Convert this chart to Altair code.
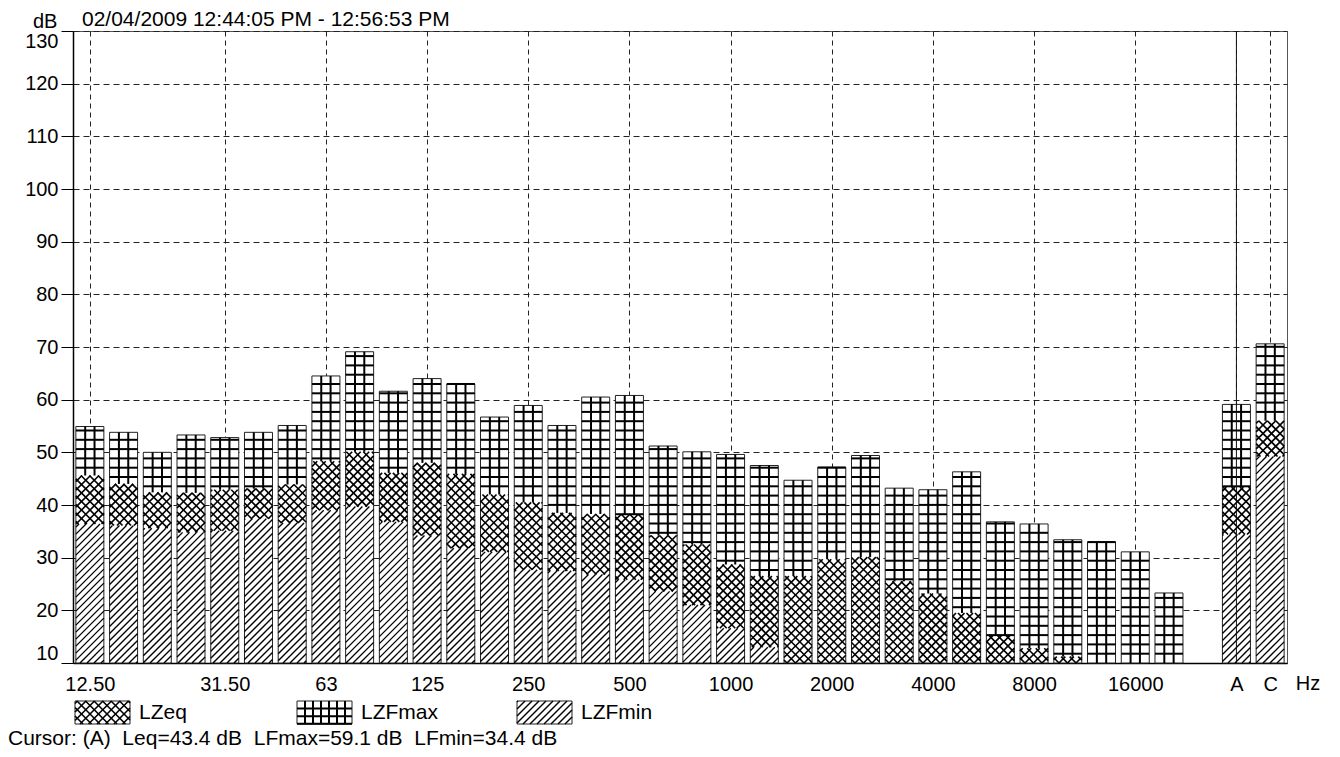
import json
import numpy as np
import pandas as pd
import altair as alt

# ---------------- data ----------------
bands = ["12.50", "16", "20", "25", "31.50", "40", "50", "63", "80", "100", "125", "160",
         "200", "250", "315", "400", "500", "630", "800", "1000", "1250", "1600", "2000",
         "2500", "3150", "4000", "5000", "6300", "8000", "10000", "12500", "16000", "20000",
         "A", "C"]
slots = list(range(33)) + [34, 35]
lzfmax = [54.9, 53.8, 50.0, 53.3, 52.8, 53.8, 55.1, 64.5, 69.1, 61.6, 64.0, 63.0, 56.7,
          58.9, 55.1, 60.5, 60.8, 51.2, 50.1, 49.6, 47.5, 44.7, 47.2, 49.4, 43.2, 42.9,
          46.3, 36.8, 36.4, 33.4, 33.0, 31.1, 23.3, 59.1, 70.6]
lzeq = [45.6, 44.0, 42.4, 42.3, 42.9, 43.1, 43.9, 48.3, 50.1, 46.1, 48.0, 45.9, 42.0,
        40.5, 38.5, 38.3, 38.2, 34.2, 32.5, 28.7, 26.5, 26.5, 29.7, 30.1, 25.5, 23.2,
        19.5, 15.2, 12.8, 11.2, 10.0, 10.0, 10.0, 43.4, 56.0]
lzfmin = [36.4, 36.1, 35.6, 34.8, 35.1, 37.4, 36.6, 39.0, 39.7, 36.8, 34.2, 31.8, 31.1,
          27.7, 27.5, 26.8, 25.8, 23.6, 21.0, 16.6, 13.0, 10.0, 10.0, 10.0, 10.0, 10.0,
          10.0, 10.0, 10.0, 10.0, 10.0, 10.0, 10.0, 34.4, 49.2]
tick_slots = [0, 4, 7, 10, 13, 16, 19, 22, 25, 28, 31, 34, 35]
tick_labels = ["12.50", "31.50", "63", "125", "250", "500", "1000", "2000", "4000",
               "8000", "16000", "A", "C"]
y_ticks = list(range(10, 131, 10))
series = ["LZeq", "LZFmax", "LZFmin"]
header_text = "02/04/2009 12:44:05 PM - 12:56:53 PM"
cursor_text = "Cursor: (A)\u00a0 Leq=43.4 dB\u00a0 LFmax=59.1 dB\u00a0 LFmin=34.4 dB"
cursor_band = "A"

# ---------------- layout ----------------
W, H = 1214, 632
X_DOM = [-0.5, 35.5]
Y_DOM = [10, 130]
SX = W / (X_DOM[1] - X_DOM[0])
SY = H / (Y_DOM[1] - Y_DOM[0])
BAR_W = 28.0
P_DIAG = 7.0
P_CROSS = 8.5
P_GRID = 9.3
FONT = "Liberation Sans"
LEG_X = [2, 224, 444]
LEG_W = 55
LEG_Y = (-61, -38)


def to_x(px):
    return px / SX + X_DOM[0]


def to_y(py):
    return Y_DOM[0] + py / SY


def hatch_up(X0, X1, Y0, Y1, p):
    segs = []
    if Y1 - Y0 < 0.5:
        return segs
    for k in range(int(np.ceil((Y0 - X1) / p)), int(np.floor((Y1 - X0) / p)) + 1):
        c = k * p
        xa, xb = max(X0, Y0 - c), min(X1, Y1 - c)
        if xb - xa > 0.3:
            segs.append((xa, xa + c, xb, xb + c))
    return segs


def hatch_down(X0, X1, Y0, Y1, p):
    segs = []
    if Y1 - Y0 < 0.5:
        return segs
    for k in range(int(np.ceil((X0 + Y0) / p)), int(np.floor((X1 + Y1) / p)) + 1):
        c = k * p
        xa, xb = max(X0, c - Y1), min(X1, c - Y0)
        if xb - xa > 0.3:
            segs.append((xa, c - xa, xb, c - xb))
    return segs


def hatch_grid(X0, X1, Y0, Y1, ph, cols=None, pv=None):
    segs = []
    if Y1 - Y0 < 0.5:
        return segs
    for k in range(int(np.floor(Y0 / ph)) + 1, int(np.ceil(Y1 / ph))):
        segs.append((X0, k * ph, X1, k * ph))
    if cols:
        xs = [X0 + (X1 - X0) * j / cols for j in range(1, cols)]
    else:
        xs = [k * pv for k in range(int(np.ceil(X0 / pv)), int(np.floor(X1 / pv)) + 1)
              if X0 < k * pv < X1]
    for xv in xs:
        segs.append((xv, Y0, xv, Y1))
    return segs


diag, cross, grid, rects = [], [], [], []
for s, mx, eq, mn in zip(slots, lzfmax, lzeq, lzfmin):
    cx = (s - X_DOM[0]) * SX
    X0, X1 = cx - BAR_W / 2, cx + BAR_W / 2
    ymn, yeq, ymx = (mn - 10) * SY, (eq - 10) * SY, (mx - 10) * SY
    rects.append((X0, 0.0, X1, ymx))
    diag += hatch_up(X0, X1, 0.0, ymn, P_DIAG)
    cross += hatch_up(X0, X1, ymn, yeq, P_CROSS) + hatch_down(X0, X1, ymn, yeq, P_CROSS)
    grid += hatch_grid(X0, X1, yeq, ymx, P_GRID, cols=3)

# legend swatches
leg_rows = []
for name, lx in zip(series, LEG_X):
    X0, X1 = lx, lx + LEG_W
    Y0, Y1 = LEG_Y
    rects.append((X0, Y0, X1, Y1))
    if name == "LZeq":
        cross += hatch_up(X0, X1, Y0, Y1, P_CROSS) + hatch_down(X0, X1, Y0, Y1, P_CROSS)
    elif name == "LZFmax":
        grid += hatch_grid(X0, X1, Y0, Y1, 7.6, pv=8.0)
    else:
        diag += hatch_up(X0, X1, Y0, Y1, P_DIAG)
    leg_rows.append({"name": name, "x": to_x(X1 + 9), "y": to_y((Y0 + Y1) / 2)})


def seg_df(segs):
    a = np.array(segs, dtype=float)
    return pd.DataFrame({"x": to_x(a[:, 0]), "y": to_y(a[:, 1]),
                         "x2": to_x(a[:, 2]), "y2": to_y(a[:, 3])})


rect_df = seg_df(rects)
diag_df, cross_df, grid_df = seg_df(diag), seg_df(cross), seg_df(grid)
leg_df = pd.DataFrame(leg_rows)
cursor_df = pd.DataFrame({"x": [slots[bands.index(cursor_band)]]})

labels_by_slot = [""] * 36
for s, l in zip(tick_slots, tick_labels):
    labels_by_slot[s] = l

x_scale = alt.Scale(domain=X_DOM, nice=False, zero=False)
y_scale = alt.Scale(domain=Y_DOM, nice=False, zero=False)
x_axis = alt.Axis(
    values=tick_slots, labelExpr=json.dumps(labels_by_slot) + "[datum.value]",
    grid=True, gridDash=[5, 4], gridColor="#222", gridWidth=1,
    ticks=False, tickSize=0, domain=True, domainColor="black", domainWidth=1.5,
    labelFont=FONT, labelFontSize=20, labelColor="black", labelPadding=21,
    labelBaseline="middle", labelFlush=False, labelOverlap=False, title=None)
y_axis = alt.Axis(
    values=y_ticks, grid=True, gridDash=[6, 4], gridColor="#222", gridWidth=1,
    ticks=True, tickSize=12, tickColor="black", tickWidth=1,
    domain=True, domainColor="black", domainWidth=1.5,
    labelFont=FONT, labelFontSize=20, labelColor="black", labelPadding=3,
    labelFlush=True, title=None)


def xy(with_y=True):
    enc = {"x": alt.X("x:Q", scale=x_scale, axis=x_axis)}
    if with_y:
        enc["y"] = alt.Y("y:Q", scale=y_scale, axis=y_axis)
    return enc


bars = alt.Chart(rect_df).mark_rect(fill="white", stroke="#222", strokeWidth=1).encode(
    x2="x2:Q", y2="y2:Q", **xy())


def rule_layer(df, width):
    return alt.Chart(df).mark_rule(color="black", strokeWidth=width).encode(
        x2="x2:Q", y2="y2:Q", **xy())


cursor_rule = alt.Chart(cursor_df).mark_rule(color="#111", strokeWidth=1).encode(
    y=alt.value(0), y2=alt.value(H), **xy(False))

legend_text = alt.Chart(leg_df).mark_text(
    align="left", baseline="middle", font=FONT, fontSize=21, color="black").encode(
    text="name:N", **xy())


def note(text, x, y, size, align="left", baseline="alphabetic"):
    return alt.Chart(pd.DataFrame({"t": [text]})).mark_text(
        align=align, baseline=baseline, font=FONT, fontSize=size, color="black").encode(
        text="t:N", x=alt.value(x), y=alt.value(y))


chart = alt.layer(
    bars,
    rule_layer(diag_df, 1.35),
    rule_layer(cross_df, 1.6),
    rule_layer(grid_df, 2.0),
    cursor_rule,
    legend_text,
    note(header_text, 9, -5, 21),
    note("dB", -40, -3, 20),
    note("Hz", W + 21, 653, 20, align="center", baseline="middle"),
    note(cursor_text, -65, 708, 21, baseline="middle"),
).properties(
    width=W, height=H,
    padding={"left": 65, "top": 23, "right": 45, "bottom": 86},
    autosize=alt.AutoSizeParams(type="none"),
    background="white",
).configure_view(stroke="#555", strokeWidth=1)

chart.save("out.html", embed_options={"renderer": "svg", "actions": False})
